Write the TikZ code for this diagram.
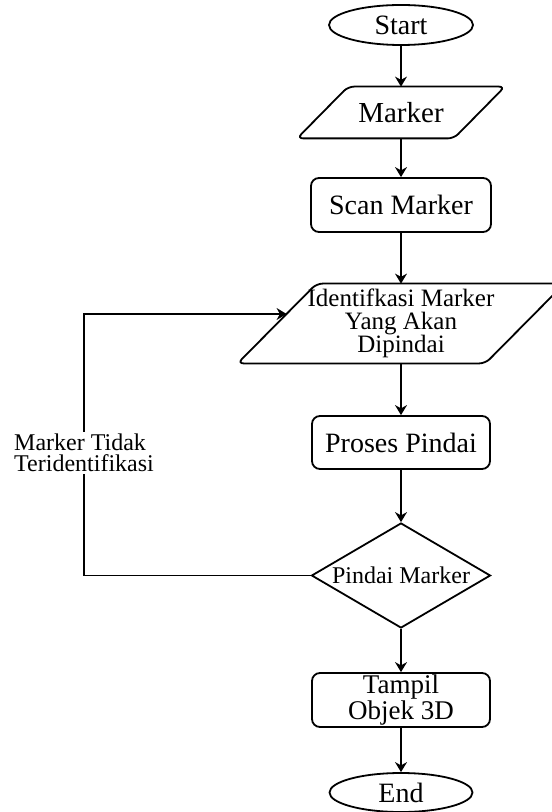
\documentclass[tikz,border=0pt]{standalone}
\usepackage{fontspec}
\setmainfont{Liberation Serif}
\usetikzlibrary{shapes.geometric,arrows.meta}
\begin{document}
\begin{tikzpicture}[x=0.5pt,y=-0.5pt,
  outline/.style={draw=black, line width=0.9pt},
  terminal/.style={outline, ellipse, inner sep=0pt},
  process/.style={outline, rectangle, rounded corners=4pt, inner sep=0pt, align=center},
  iobox/.style={rectangle, inner sep=0pt, align=center},
  slanted/.style={outline, rounded corners=3pt},
  decision/.style={outline, diamond, shape aspect=1.7, inner sep=0pt,
    minimum width=89.5pt, minimum height=52.5pt, font=\fontsize{12}{12}\selectfont},
  flow/.style={line width=0.7pt, -{Stealth[length=5pt,width=6pt]}},
  fsize/.style={font=\fontsize{#1}{#1}\selectfont},
]
\useasboundingbox (0,0) rectangle (551,812);

% nodes of the main flow
\node[terminal, fsize=14, minimum width=72pt, minimum height=20pt] (start) at (401,25) {Start};
\node[iobox, fsize=14.5, minimum width=78pt, minimum height=25.5pt] (marker) at (401,112.5) {Marker};
\node[process, fsize=14, minimum width=90pt, minimum height=27pt] (scan) at (401,205) {Scan Marker};
\node[iobox, font=\fontsize{12.5}{11.5}\selectfont, minimum width=123.5pt, minimum height=39.5pt]
  (ident) at (401,323.5) {Identifkasi Marker\\Yang Akan\\Dipindai};
\node[process, fsize=14, minimum width=89pt, minimum height=26.5pt] (proses) at (401,442.5) {Proses Pindai};
\node[decision] (cek) at (401,575.5) {Pindai Marker};
\node[process, font=\fontsize{13.5}{13}\selectfont, minimum width=89pt, minimum height=27pt] (tampil) at (401,700)
  {Tampil\\Objek 3D};
\node[terminal, fsize=14, minimum width=71.5pt, minimum height=19.5pt] (end) at (401,792.5) {End};

% parallelogram outlines of the input/output steps
\draw[slanted] ([xshift=12.75pt]marker.north west) -- ([xshift=12.75pt]marker.north east)
  -- ([xshift=-12.75pt]marker.south east) -- ([xshift=-12.75pt]marker.south west) -- cycle;
\draw[slanted] ([xshift=19.75pt]ident.north west) -- ([xshift=19.75pt]ident.north east)
  -- ([xshift=-19.75pt]ident.south east) -- ([xshift=-19.75pt]ident.south west) -- cycle;

% connectors
\draw[flow] (start.south) -- (marker.north);
\draw[flow] (marker.south) -- (scan.north);
\draw[flow] (scan.south) -- (ident.north);
\draw[flow] (ident.south) -- (proses.north);
\draw[flow] (proses.south) -- (cek.north);
\draw[flow] (cek.south) -- (tampil.north);
\draw[flow] (tampil.south) -- (end.north);

% loop back when the marker is not recognised
\coordinate (loopL) at (84,575.5);
\coordinate (loopT) at (84,314);
\coordinate (hit) at ([shift={(4.75pt,4.75pt)}]ident.west);
\draw[flow] (cek.west) -- (loopL) -- (loopT) -- (hit);
\node[fill=white, align=left, inner xsep=0pt, inner ysep=1pt,
  font=\fontsize{12}{10.5}\selectfont] (gagal) at (84,453)
  {Marker Tidak\\Teridentifikasi};
\end{tikzpicture}
\end{document}
